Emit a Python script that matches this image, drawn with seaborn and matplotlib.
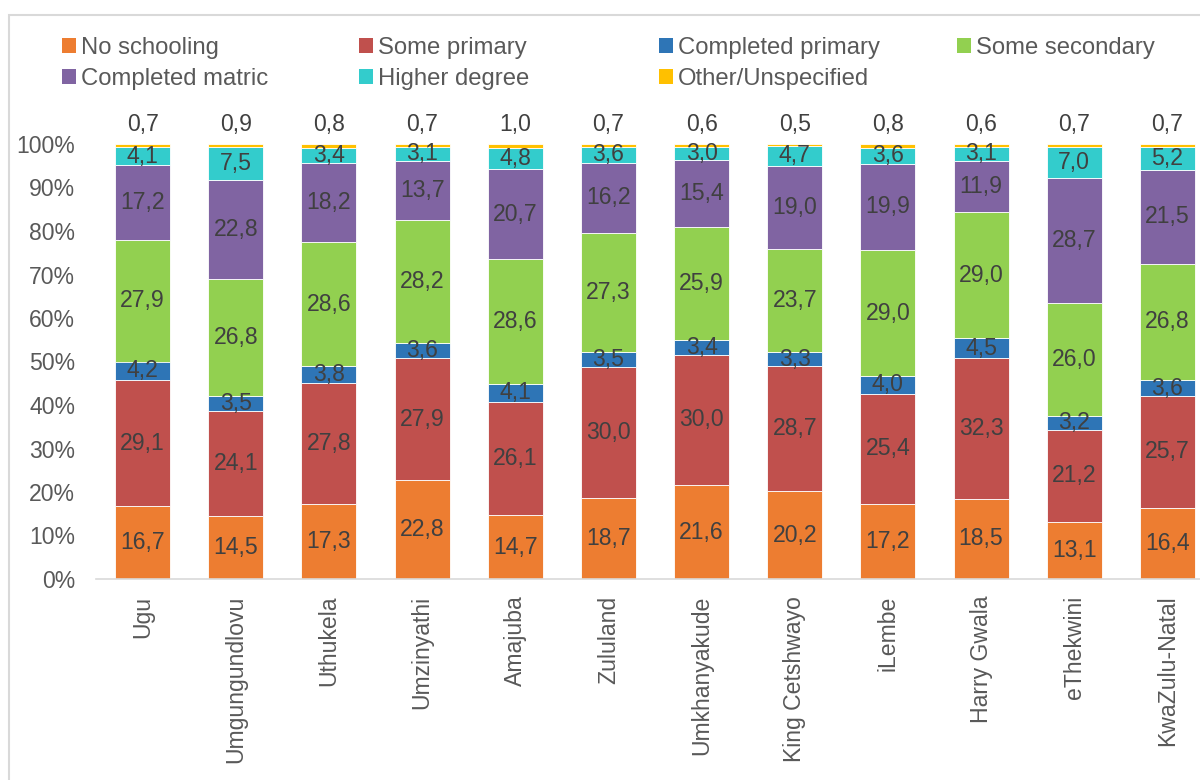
import matplotlib
matplotlib.use("Agg")
import matplotlib.pyplot as plt
from matplotlib.patches import Patch, Rectangle
import numpy as np
import seaborn as sns

districts = ["Ugu", "Umgungundlovu", "Uthukela", "Umzinyathi", "Amajuba", "Zululand",
             "Umkhanyakude", "King Cetshwayo", "iLembe", "Harry Gwala", "eThekwini",
             "KwaZulu-Natal"]

no_schooling = [16.7, 14.5, 17.3, 22.8, 14.7, 18.7, 21.6, 20.2, 17.2, 18.5, 13.1, 16.4]
some_primary = [29.1, 24.1, 27.8, 27.9, 26.1, 30.0, 30.0, 28.7, 25.4, 32.3, 21.2, 25.7]
completed_primary = [4.2, 3.5, 3.8, 3.6, 4.1, 3.5, 3.4, 3.3, 4.0, 4.5, 3.2, 3.6]
some_secondary = [27.9, 26.8, 28.6, 28.2, 28.6, 27.3, 25.9, 23.7, 29.0, 29.0, 26.0, 26.8]
completed_matric = [17.2, 22.8, 18.2, 13.7, 20.7, 16.2, 15.4, 19.0, 19.9, 11.9, 28.7, 21.5]
higher_degree = [4.1, 7.5, 3.4, 3.1, 4.8, 3.6, 3.0, 4.7, 3.6, 3.1, 7.0, 5.2]
other_unspecified = [0.7, 0.9, 0.8, 0.7, 1.0, 0.7, 0.6, 0.5, 0.8, 0.6, 0.7, 0.7]

series_names = ["No schooling", "Some primary", "Completed primary", "Some secondary",
                "Completed matric", "Higher degree", "Other/Unspecified"]
series_values = [no_schooling, some_primary, completed_primary, some_secondary,
                 completed_matric, higher_degree, other_unspecified]
colors = ["#ED7D31", "#C0504D", "#2E75B6", "#92D050", "#8064A2", "#33CCCC", "#FFC000"]

sns.set_theme(style="white")
plt.rcParams["font.family"] = ["Liberation Sans", "DejaVu Sans"]

label_color = "#404040"
tick_color = "#595959"
fs = 16.6
legend_fs = 17.2

fig = plt.figure(figsize=(12, 7.8), dpi=100)
ax = fig.add_axes([96 / 1200, 201 / 780, 1118 / 1200, 435 / 780])

bottom = np.zeros(len(districts))
for name, vals, col in zip(series_names, series_values, colors):
    vals = np.array(vals)
    sns.barplot(x=districts, y=vals, bottom=bottom, color=col, width=0.59,
                errorbar=None, ax=ax, edgecolor="white", linewidth=0.6, saturation=1)
    if name != "Other/Unspecified":
        for i, v in enumerate(vals):
            ax.text(i, bottom[i] + v / 2, f"{v:.1f}".replace(".", ","),
                    ha="center", va="center", fontsize=fs, color=label_color)
    else:
        for i, v in enumerate(vals):
            ax.annotate(f"{v:.1f}".replace(".", ","), xy=(i, bottom[i] + v),
                        xytext=(0, 14), textcoords="offset points",
                        ha="center", va="center", fontsize=fs, color=label_color)
    bottom = bottom + vals

ax.set_ylim(0, 100)
ax.set_xlim(-0.5, len(districts) - 0.5)
ax.set_yticks(np.arange(0, 101, 10))
ax.set_yticklabels([f"{t}%" for t in range(0, 101, 10)])
ax.tick_params(axis="y", length=0, pad=15, labelsize=fs, labelcolor=tick_color)
ax.tick_params(axis="x", length=0, pad=12, labelsize=fs, labelcolor=tick_color)
for lbl in ax.get_xticklabels():
    lbl.set_rotation(90)
    lbl.set_va("top")
    lbl.set_ha("center")
ax.set_xlabel("")
ax.set_ylabel("")
for side in ["left", "top", "right"]:
    ax.spines[side].set_visible(False)
ax.spines["bottom"].set_color("#d9d9d9")
ax.spines["bottom"].set_linewidth(1.2)
ax.grid(False)

# Legend laid out as four equal-width columns, filled row by row
col_x = [62, 359, 659, 957]
rows = [[0, 4], [1, 5], [2, 6], [3]]
for cx, idxs in zip(col_x, rows):
    handles = [Patch(facecolor=colors[k], edgecolor="none") for k in idxs]
    labels = [series_names[k] for k in idxs]
    fig.legend(handles, labels, loc="upper left",
               bbox_to_anchor=(cx / 1200, 1 - 37 / 780),
               frameon=False, fontsize=legend_fs, labelcolor=tick_color,
               handlelength=0.6, handleheight=0.6, handletextpad=0.2,
               labelspacing=0.37, borderpad=0, borderaxespad=0)

# Chart border
fig.patches.append(Rectangle((9 / 1200, -0.1), 1.5, 1.1 - 15 / 780,
                             transform=fig.transFigure, fill=False,
                             edgecolor="#d9d9d9", linewidth=1.5))

fig.savefig("out.png", dpi=100)
